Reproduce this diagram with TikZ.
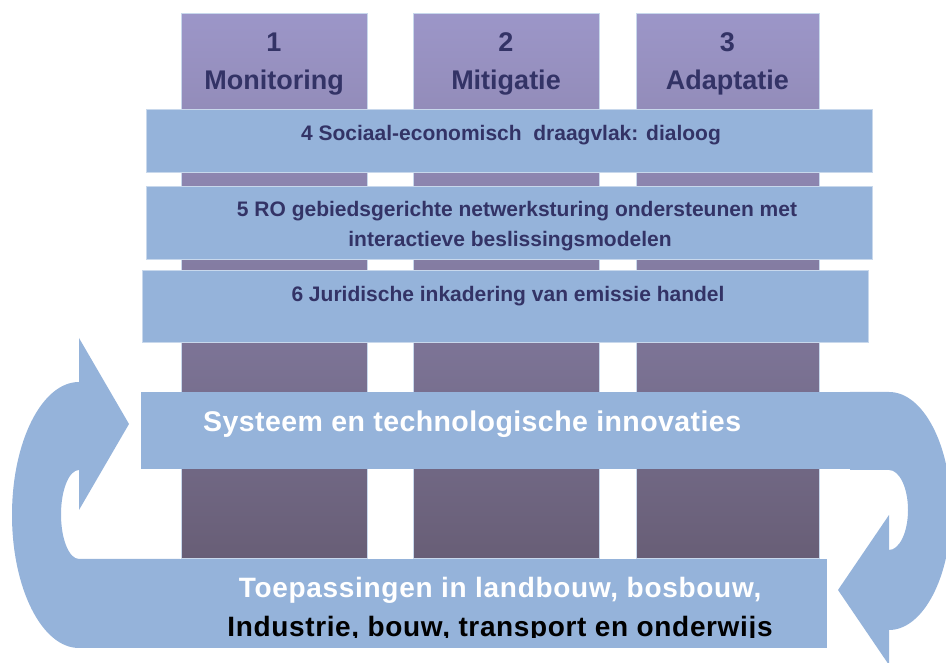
\documentclass[tikz,border=0pt]{standalone}
\usepackage{fontspec}
\setmainfont{Liberation Sans}
\definecolor{barblue}{RGB}{149,179,218}
\definecolor{bartext}{RGB}{51,51,102}
\definecolor{coltop}{RGB}{156,150,200}
\definecolor{colbot}{RGB}{104,94,118}
\definecolor{edgeblue}{RGB}{200,216,236}
\tikzset{
  pillar/.style={top color=coltop, bottom color=colbot, draw=edgeblue, line width=1pt},
  band/.style={fill=barblue, draw=edgeblue, line width=0.8pt},
  flow/.style={fill=barblue},
  coltxt/.style={anchor=base, text=bartext, font=\fontsize{27}{30}\selectfont\bfseries, inner sep=0pt},
  bandtxt/.style={anchor=base, text=bartext, font=\fontsize{21}{24}\selectfont\bfseries, inner sep=0pt},
  bigtxt/.style={anchor=base, font=\fontsize{28.5}{32}\selectfont\bfseries, inner sep=0pt}
}
\begin{document}
\begin{tikzpicture}[x=1pt,y=1pt]
\useasboundingbox (0,0) rectangle (946,663);
\clip (0,0) rectangle (946,663);
% pillars
\shade[pillar] (181,104) rectangle (367,649);
\shade[pillar] (413,104) rectangle (599,649);
\shade[pillar] (636,104) rectangle (819,649);
\node[coltxt] (n1) at (274,611) {1};
\node[coltxt] (t1) at (274,573) {Monitoring};
\node[coltxt] (n2) at (506,611) {2};
\node[coltxt] (t2) at (506,573) {Mitigatie};
\node[coltxt] (n3) at (727.5,611) {3};
\node[coltxt] (t3) at (727.5,573) {Adaptatie};
% bands
\path[band] (146,491) rectangle (872,554);
\node[bandtxt] (b4) at (511,522.5) {4 Sociaal-economisch\ \ draagvlak: dialoog};
\path[band] (146,404) rectangle (872,477);
\node[bandtxt] (b5a) at (517,446) {5 RO gebiedsgerichte netwerksturing ondersteunen met};
\node[bandtxt] (b5b) at (510,416) {interactieve beslissingsmodelen};
\path[band] (142,321) rectangle (868,393);
\node[bandtxt] (b6) at (508,361) {6 Juridische inkadering van emissie handel};
% system band and bottom band with turning arrows
\fill[flow] (141,194) rectangle (890,271);
\fill[flow] (170,15) rectangle (827,104);
\fill[flow] (180,15) -- (79,15)
  arc[start angle=270, end angle=90, x radius=67, y radius=133]
  -- (79,325) -- (129,239) -- (79,153) -- (79,193)
  arc[start angle=90, end angle=270, x radius=18, y radius=44.5]
  -- (180,104) -- cycle;
\fill[flow] (850,271) -- (889,271)
  arc[start angle=90, end angle=-90, x radius=62, y radius=119]
  -- (889,-2) -- (838,73) -- (889,148) -- (889,113)
  arc[start angle=-90, end angle=90, x radius=19, y radius=40]
  -- (850,193) -- cycle;
\node[bigtxt, anchor=base west, text=white] (sys) at (203,231.3) {\addfontfeature{LetterSpace=1.5}Systeem en technologische innovaties};
\node[bigtxt, text=white, font=\fontsize{28}{32}\selectfont\bfseries] (app1) at (500,65.3) {\addfontfeature{LetterSpace=2.5}Toepassingen in landbouw, bosbouw,};
\begin{scope}
\clip (100,25) rectangle (900,104);
\node[bigtxt, text=black, font=\fontsize{28}{32}\selectfont\bfseries] (app2) at (500,26) {\addfontfeature{LetterSpace=2.3}Industrie, bouw, transport en onderwijs};
\end{scope}
\end{tikzpicture}
\end{document}
